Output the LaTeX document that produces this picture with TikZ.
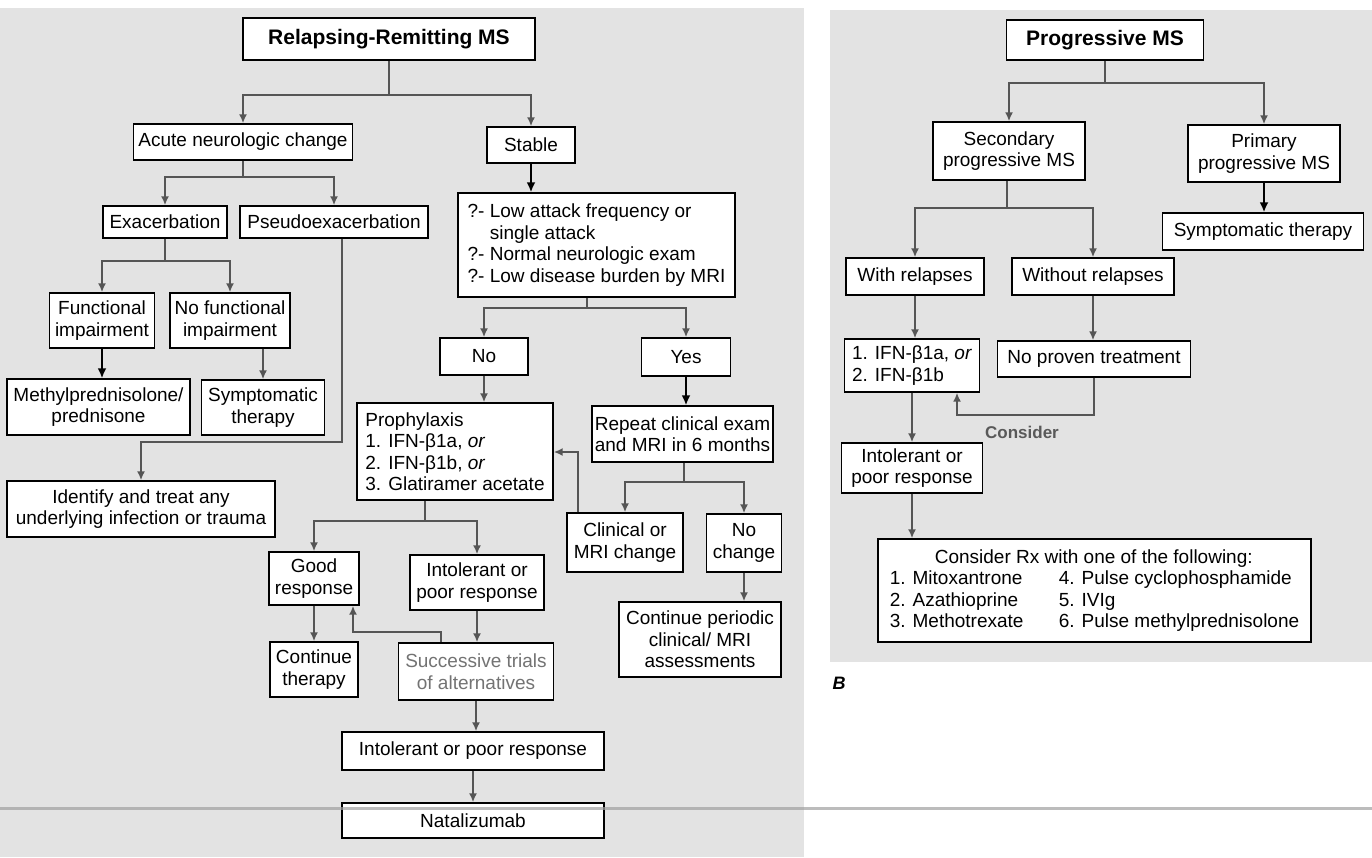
\documentclass[tikz,border=0pt]{standalone}
\usepackage{fontspec}
\setmainfont{Liberation Sans}
\usetikzlibrary{arrows.meta}

\definecolor{panel}{HTML}{E3E3E3}
\definecolor{linkgray}{HTML}{555555}
\definecolor{foldgray}{HTML}{A0A0A0}

\tikzset{
  box/.style={draw=black, line width=1.4pt, fill=white, inner sep=0pt,
              align=center, font=\fontsize{19}{21.5}\selectfont},
  headbox/.style={box, font=\fontsize{21}{24}\selectfont\bfseries},
  wh/.style 2 args={minimum width=#1, minimum height=#2},
  link/.style={draw=linkgray, line width=2.4pt},
  arr/.style={link, -{Latex[length=9pt,width=8pt]}},
  heavy/.style={draw=black, line width=2.8pt, -{Latex[length=10pt,width=9pt]}},
}

\begin{document}
\begin{tikzpicture}[x=1pt, y=-1pt]
\useasboundingbox (0,0) rectangle (1372,857);
\fill[white] (0,0) rectangle (1372,857);

% two shaded panels
\fill[panel] (0,8) rectangle (804,857);
\fill[panel] (830,10) rectangle (1372,662);

% ---------------- Relapsing-remitting MS ----------------
\node[headbox, wh={292}{42}] (rr) at (389,39) {Relapsing-Remitting MS};
\node[box, wh={219}{36}] (acute) at (243,142) {Acute neurologic change};
\node[box, wh={88}{36}] (stable) at (531,145) {Stable};
\node[box, wh={124}{32}] (exac) at (165,222) {Exacerbation};
\node[box, wh={188}{32}] (pseudo) at (334,222) {Pseudoexacerbation};
\node[box, wh={277}{104}, align=left] (crit) at (596.5,245)
  {?- Low attack frequency or\\\phantom{?- }single attack\\?- Normal neurologic exam\\?- Low disease burden by MRI};
\node[box, wh={105}{55}] (func) at (102,320.5) {Functional\\impairment};
\node[box, wh={120}{55}] (nofunc) at (230,320.5) {No functional\\impairment};
\node[box, wh={88}{37}] (no) at (484,356.5) {No};
\node[box, wh={89}{38}] (yes) at (686,357) {Yes};
\node[box, wh={183}{56}] (methyl) at (98.5,407) {Methylprednisolone/\\prednisone};
\node[box, wh={123}{55}] (symp) at (263,407.5) {Symptomatic\\therapy};
\node[box, wh={196}{97}, align=left] (proph) at (455,451.5)
  {Prophylaxis\\1. IFN-β1a, \textit{or}\\2. IFN-β1b, \textit{or}\\3. Glatiramer acetate};
\node[box, wh={181}{56}] (repeat) at (682.5,434) {Repeat clinical exam\\and MRI in 6 months};
\node[box, wh={268}{56}] (ident) at (141,509) {Identify and treat any\\underlying infection or trauma};
\node[box, wh={116}{59}] (clin) at (625,542.5) {Clinical or\\MRI change};
\node[box, wh={75}{58}] (nochg) at (744,543) {No\\change};
\node[box, wh={90}{53}] (good) at (314,578.5) {Good\\response};
\node[box, wh={134}{55}] (intolM) at (477,582.5) {Intolerant or\\poor response};
\node[box, wh={162}{75}] (periodic) at (700,639.5) {Continue periodic\\clinical/ MRI\\assessments};
\node[box, wh={88}{55}] (cont) at (314,669.5) {Continue\\therapy};
\node[box, wh={155}{57}, text=black!55] (succ) at (476,671.5) {Successive trials\\of alternatives};
\node[box, wh={262}{38}] (intolB) at (473,751) {Intolerant or poor response};
\node[box, wh={262}{35}] (nat) at (473,820.5) {Natalizumab};

% junction points of the branching connectors
\coordinate (rrj) at (389,95);
\coordinate (acutej) at (243,177);
\coordinate (exacj) at (165,261);
\coordinate (pb) at (342,442);
\coordinate (critj) at (587,308);
\coordinate (repj) at (684,482);
\coordinate (cfb) at (578,452);
\coordinate (prophj) at (425,521);
\coordinate (sg1) at (441,632);
\coordinate (sg2) at (353,632);

\draw[link] (rr) -- (rrj);
\draw[arr] (rrj) -| (acute);
\draw[arr] (rrj) -| (stable);
\draw[link] (acute) -- (acutej);
\draw[arr] (acutej) -| (exac);
\draw[arr] (acutej) -| (pseudo);
\draw[link] (exac) -- (exacj);
\draw[arr] (exacj) -| (func);
\draw[arr] (exacj) -| (nofunc);
\draw[heavy] (func.south) -- (func.south |- methyl.north);
\draw[arr] (symp.north |- nofunc.south) -- (symp.north);
\draw[arr] (pseudo.south -| pb) -- (pb) -| (ident);
\draw[heavy] (stable) -- (stable |- crit.north);
\draw[link] (crit.south -| critj) -- (critj);
\draw[arr] (critj) -| (no);
\draw[arr] (critj) -| (yes);
\draw[arr] (no) -- (no |- proph.north);
\draw[heavy] (yes) -- (yes |- repeat.north);
\draw[link] (repeat.south -| repj) -- (repj);
\draw[arr] (repj) -| (clin);
\draw[arr] (repj) -| (nochg);
\draw[arr] (clin.north -| cfb) -- (cfb) -- (proph.east |- cfb);
\draw[link] (proph.south -| prophj) -- (prophj);
\draw[arr] (prophj) -| (good);
\draw[arr] (prophj) -| (intolM);
\draw[arr] (good) -- (good |- cont.north);
\draw[arr] (intolM) -- (intolM |- succ.north);
\draw[arr] (succ.north -| sg1) -- (sg1) -- (sg2) -- (good.south -| sg2);
\draw[arr] (succ) -- (succ |- intolB.north);
\draw[arr] (intolB) -- (intolB |- nat.north);
\draw[arr] (nochg) -- (nochg |- periodic.north);

% ---------------- Progressive MS ----------------
\node[headbox, wh={197}{40}] (prog) at (1105,40) {Progressive MS};
\node[box, wh={152}{58}] (second) at (1009,151) {Secondary\\progressive MS};
\node[box, wh={152}{57}] (primary) at (1264,153.5) {Primary\\progressive MS};
\node[box, wh={201}{37}] (sympR) at (1263,231.5) {Symptomatic therapy};
\node[box, wh={138}{37}] (withr) at (915,276.5) {With relapses};
\node[box, wh={162}{37}] (without) at (1093,276.5) {Without relapses};
\node[box, wh={135}{53}, align=left] (ifn) at (912,365.5) {1. IFN-β1a, \textit{or}\\2. IFN-β1b};
\node[box, wh={193}{36}] (noproven) at (1094,359) {No proven treatment};
\node[box, wh={141}{50}] (intolR) at (912,468) {Intolerant or\\poor response};
\node[box, wh={433}{103}, align=left] (rx) at (1094.5,590.5)
  {\makebox[408pt][c]{Consider Rx with one of the following:}\\
   \makebox[169pt][l]{1. Mitoxantrone}4. Pulse cyclophosphamide\\
   \makebox[169pt][l]{2. Azathioprine}5. IVIg\\
   \makebox[169pt][l]{3. Methotrexate}6. Pulse methylprednisolone};

\coordinate (progj) at (1105,83);
\coordinate (secj) at (1007,208);
\coordinate (c1) at (1094,415);
\coordinate (c2) at (957,415);

\draw[link] (prog) -- (progj);
\draw[arr] (progj) -| (second);
\draw[arr] (progj) -| (primary);
\draw[heavy] (primary) -- (primary |- sympR.north);
\draw[link] (second.south -| secj) -- (secj);
\draw[arr] (secj) -| (withr);
\draw[arr] (secj) -| (without);
\draw[arr] (withr) -- (withr |- ifn.north);
\draw[arr] (without) -- (without |- noproven.north);
\draw[arr] (noproven.south -| c1) -- (c1) -- (c2) -- (ifn.south -| c2);
\node[font=\fontsize{17}{20}\selectfont\bfseries, text=black!65] (consider) at (1022,432) {Consider};
\draw[arr] (ifn) -- (ifn |- intolR.north);
\draw[arr] (intolR) -- (intolR |- rx.north);

\node[font=\fontsize{18}{20}\selectfont\bfseries\itshape] (blabel) at (839,683) {B};

% fold line running across the sheet
\draw[foldgray, line width=3pt, opacity=0.7] (0,808) -- (1372,808);
\end{tikzpicture}
\end{document}
